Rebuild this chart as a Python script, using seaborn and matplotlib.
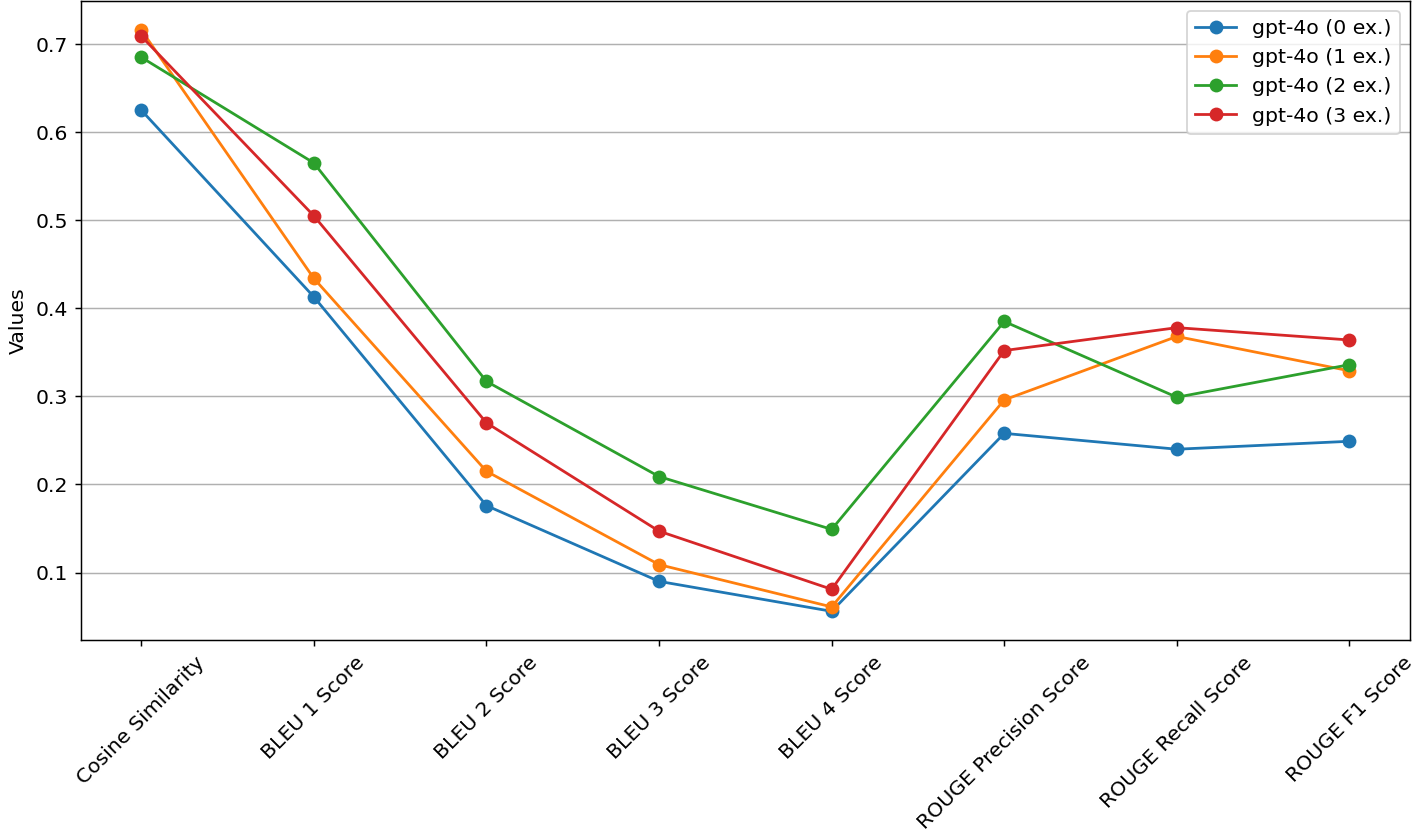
import matplotlib
matplotlib.use("Agg")
import matplotlib.pyplot as plt
import seaborn as sns

# Metrics on the x axis
metrics = ['Cosine Similarity', 'BLEU 1 Score', 'BLEU 2 Score', 'BLEU 3 Score',
           'BLEU 4 Score', 'ROUGE Precision Score', 'ROUGE Recall Score', 'ROUGE F1 Score']

# Scores per number of examples
gpt_0ex = [0.625, 0.413, 0.176, 0.090, 0.056, 0.258, 0.240, 0.249]
gpt_1ex = [0.716, 0.434, 0.215, 0.109, 0.061, 0.296, 0.368, 0.329]
gpt_2ex = [0.685, 0.565, 0.317, 0.209, 0.149, 0.385, 0.299, 0.336]
gpt_3ex = [0.709, 0.505, 0.270, 0.147, 0.081, 0.352, 0.378, 0.364]

series = [('gpt-4o (0 ex.)', gpt_0ex), ('gpt-4o (1 ex.)', gpt_1ex),
          ('gpt-4o (2 ex.)', gpt_2ex), ('gpt-4o (3 ex.)', gpt_3ex)]
colors = ['#1f77b4', '#ff7f0e', '#2ca02c', '#d62728']

plt.rcParams['font.size'] = 11

fig, ax = plt.subplots(figsize=(1417 / 133, 836 / 133), dpi=133)

for (name, vals), c in zip(series, colors):
    sns.lineplot(x=metrics, y=vals, label=name, color=c, marker='o', sort=False,
                 markersize=7.5, markeredgewidth=0, linewidth=1.5, ax=ax)

ax.set_ylabel('Values')
ax.set_xlabel('')
ax.grid(axis='y')
ax.set_axisbelow(True)
plt.xticks(rotation=45)
ax.legend(loc='upper right')

fig.subplots_adjust(left=0.057, right=0.995, top=0.999, bottom=0.234)
plt.savefig('out.png', dpi=133)
